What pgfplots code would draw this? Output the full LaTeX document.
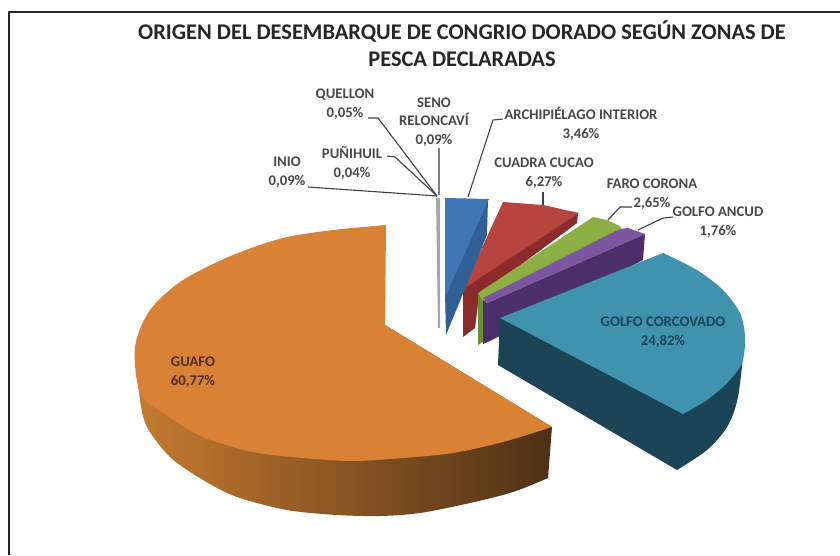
\documentclass[border=0pt]{standalone}
\usepackage{pgfplots}
\pgfplotsset{compat=1.18}
\usepackage{fontspec}
\setmainfont{Carlito}

\definecolor{guafoTop}{HTML}{D98236}
\definecolor{guafoA}{HTML}{C57A30}
\definecolor{guafoB}{HTML}{8E5522}
\definecolor{guafoC}{HTML}{4E3015}
\definecolor{tealTop}{HTML}{3F93AE}
\definecolor{tealSide}{HTML}{1B4557}
\definecolor{purpTop}{HTML}{7A55A0}
\definecolor{purpSide}{HTML}{4A2F6A}
\definecolor{greenTop}{HTML}{8DB045}
\definecolor{greenSide}{HTML}{6F8D35}
\definecolor{redTop}{HTML}{B8443F}
\definecolor{redSide}{HTML}{8B2B2A}
\definecolor{blueTop}{HTML}{3F76B5}
\definecolor{blueSide}{HTML}{2F5F94}
\definecolor{lead}{HTML}{404040}
\definecolor{lab}{HTML}{484848}

\tikzset{lbl/.style={font=\bfseries\fontsize{14.7}{18.5}\selectfont, text=lab, align=center, inner sep=0pt}}

\begin{document}
\begin{tikzpicture}
\begin{axis}[
    width=840pt, height=555pt,
    scale only axis,
    xmin=0, xmax=840,
    ymin=0, ymax=555,
    y dir=reverse,
    hide axis,
    no markers,
    every axis plot/.append style={line join=round},
]
% keeps the page as large as the whole chart
\addplot[white, line width=0.1pt] coordinates {(0,0) (840,0) (840,555) (0,555) (0,0)};
% frame, only left and top edge are visible
\addplot[black!85, line width=1.4pt] coordinates {(9,555) (9,12) (840,12)};

% guafo, side then top
\addplot[draw=none, smooth, left color=guafoA, middle color=guafoB, right color=guafoC] coordinates {
    (136,360) (140,400) (147,427) (170,457) (203,480) (237,497) (287,510) (337,515)
    (380,516) (420,513) (470,503) (513,492) (548,478)} -- (axis cs:552,427) -- (axis cs:385,325) -- cycle;
\addplot[draw=none, smooth, fill=guafoTop] coordinates {
    (386,225) (333,230) (283,238) (233,255) (183,280) (150,310) (135,347)
    (140,393) (163,413) (203,437) (253,452) (303,458) (353,461) (403,458)
    (453,453) (503,442) (552,427)} -- (axis cs:385,325) -- cycle;

% red
\addplot[draw=none, fill=redSide] coordinates {
    (578,213) (577,223) (479,296) (475,328) (463,337) (463,288)} -- cycle;
\addplot[draw=none, fill=redTop] coordinates {
    (503,202) (543,205) (579,213) (463,289)} -- cycle;
% green
\addplot[draw=none, fill=greenSide] coordinates {
    (478,293) (486,297) (486,340) (478,345)} -- cycle;
\addplot[draw=none, fill=greenTop] coordinates {
    (593,217) (607,220) (620,226) (622,232) (484,302) (478,293)} -- cycle;
% purple
\addplot[draw=none, fill=purpSide] coordinates {
    (487,303) (645,234) (643,260) (492,340) (483,344) (483,300)} -- cycle;
\addplot[draw=none, fill=purpTop] coordinates {
    (483,298) (620,229) (628,228) (645,234) (487,303)} -- cycle;
% blue
\addplot[draw=none, fill=blueSide] coordinates {
    (488,198) (487,235) (446,335) (445,293)} -- cycle;
\addplot[draw=none, fill=blueTop] coordinates {
    (445,198) (489,199) (447,293) (445,293)} -- cycle;
% seno reloncavi sliver
\addplot[draw=none, fill=gray!70] coordinates {
    (436,198) (440,198) (440,328) (438,328)} -- cycle;

% golfo corcovado
\addplot[draw=none, smooth, fill=tealSide] coordinates {
    (745,337) (738,397) (727,427) (707,450) (677,470)} -- (axis cs:498,365) -- (axis cs:500,318) -- cycle;
\addplot[draw=none, smooth, fill=tealTop] coordinates {
    (663,253) (697,270) (723,290) (740,313) (745,337) (742,363) (727,383)
    (707,400) (683,414)} -- (axis cs:500,318) -- cycle;

% leader lines
\addplot[lead, line width=1.1pt] coordinates {(308,187) (437,196)};
\addplot[lead, line width=1.1pt] coordinates {(368,118) (378,118) (437,196)};
\addplot[lead, line width=1.1pt] coordinates {(387,156) (395,157) (437,196)};
\addplot[gray, line width=1.1pt] coordinates {(439,148) (439,195)};
\addplot[lead, line width=1.1pt] coordinates {(503,119) (493,120) (468,197)};
\addplot[lead, line width=1.1pt] coordinates {(543,192) (543,205)};
\addplot[lead, line width=1.1pt] coordinates {(632,207) (620,207) (608,220)};
\addplot[lead, line width=1.1pt] coordinates {(673,217) (663,218) (638,230)};

% labels
\node[lbl] at (axis cs:287,172) {INIO\\0,09\%};
\node[lbl] at (axis cs:352,163) {PUÑIHUIL\\0,04\%};
\node[lbl] at (axis cs:345,104) {QUELLON\\0,05\%};
\node[lbl] at (axis cs:434,122) {SENO\\RELONCAVÍ\\0,09\%};
\node[lbl] at (axis cs:581,124) {ARCHIPIÉLAGO INTERIOR\\3,46\%};
\node[lbl] at (axis cs:544,173) {CUADRA CUCAO\\6,27\%};
\node[lbl] at (axis cs:652,194) {FARO CORONA\\2,65\%};
\node[lbl] at (axis cs:718,222) {GOLFO ANCUD\\1,76\%};
\node[lbl, text=tealSide] at (axis cs:663,332) {GOLFO CORCOVADO\\24,82\%};
\node[lbl, text=guafoC] at (axis cs:193,372) {GUAFO\\60,77\%};

% title
\node[font=\bfseries\fontsize{22.4}{27}\selectfont, text=black!85, align=center, inner sep=0pt]
    at (axis cs:462,44) {ORIGEN DEL DESEMBARQUE DE CONGRIO DORADO SEGÚN ZONAS DE\\PESCA DECLARADAS};
\end{axis}
\end{tikzpicture}
\end{document}
